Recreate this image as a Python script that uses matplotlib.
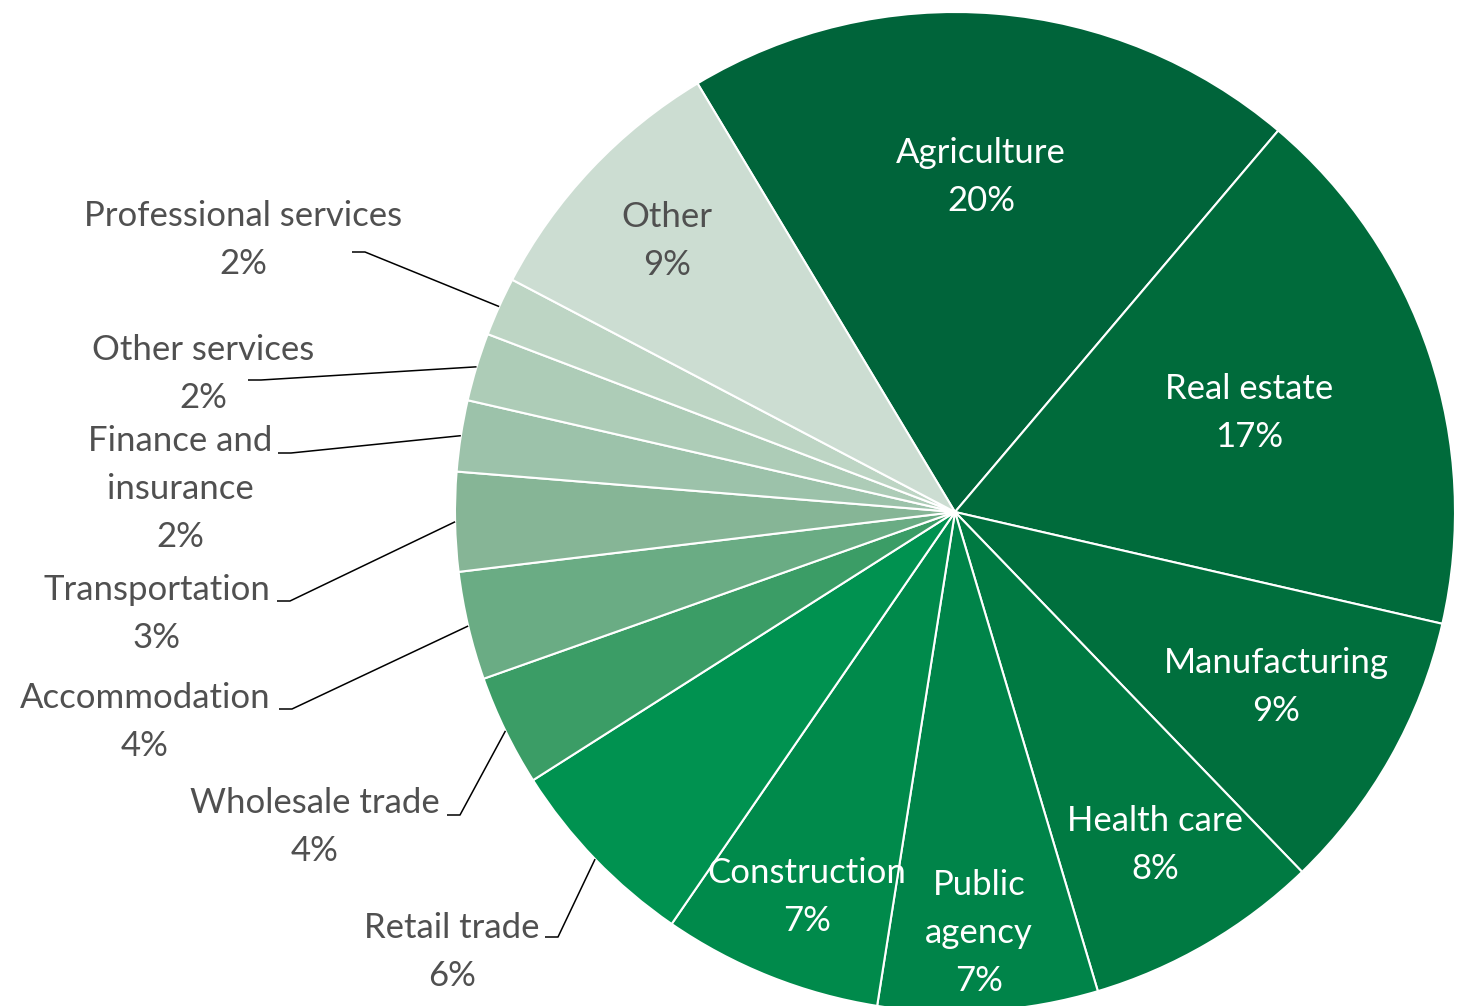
import matplotlib.pyplot as plt
import numpy as np

sectors = ["Agriculture", "Real estate", "Manufacturing", "Health care",
           "Public\nagency", "Construction", "Retail trade", "Wholesale trade",
           "Accommodation", "Transportation", "Finance and\ninsurance",
           "Other services", "Professional services", "Other"]
shares = [19.8, 17.4, 9.2, 7.6, 7.1, 7.1, 6.4, 3.6, 3.5, 3.2, 2.3, 2.2, 1.9, 8.7]
colors = ["#00643A", "#006B3B", "#006F3D", "#007A42", "#008449", "#008A4B",
          "#009250", "#3B9D66", "#6AAC84", "#86B596", "#9CC2AA", "#ADCCB7",
          "#BDD5C4", "#CCDDD2"]

# label placement in pixel coords (x, y from top-left)
label_pos = [(981, 177), (1249, 413), (1276, 687), (1155, 845), (979, 933),
             (807, 897), (452, 952), (315, 827), (145, 722), (157, 614),
             (180, 489), (203, 374), (243, 240), (667, 241)]
# leader start for outside labels (None = label sits inside the slice)
leader_from = [None, None, None, None, None, None, (545, 937), (447, 815),
               (279, 709), (277, 601), (278, 453), (248, 380), (352, 252), None]

W, H = 1458, 1006
CX, CY, R = 955, 512, 500
GRAY = "#505050"


def px(x, y):
    return (x - CX) / R, (CY - y) / R


plt.rcParams['font.family'] = ['Lato', 'DejaVu Sans']

fig = plt.figure(figsize=(W / 100, H / 100), dpi=100)
ax = fig.add_axes([0, 0, 1, 1])
wedges, _ = ax.pie(shares, colors=colors, startangle=121, counterclock=False,
                   radius=1, wedgeprops=dict(edgecolor='white', linewidth=1.5))
ax.set_xlim(-CX / R, (W - CX) / R)
ax.set_ylim(-(H - CY) / R, CY / R)
ax.set_aspect('equal')
ax.axis('off')

total = sum(shares)
for i, (name, v) in enumerate(zip(sectors, shares)):
    txt = f"{name}\n{round(v / total * 100):.0f}%"
    inside = leader_from[i] is None
    col = 'white' if inside and name != "Other" else GRAY
    x, y = px(*label_pos[i])
    ax.text(x, y, txt, ha='center', va='center', multialignment='center',
            fontsize=25, color=col, linespacing=1.6)
    if not inside:
        # leader: short horizontal tick, then to the slice edge at mid angle
        w = wedges[i]
        mid = np.deg2rad((w.theta1 + w.theta2) / 2)
        x0, y0 = leader_from[i]
        sx, sy = px(x0, y0)
        ex, ey = px(x0 + 13, y0)
        ax.plot([sx, ex, np.cos(mid)], [sy, ey, np.sin(mid)],
                color='black', lw=1.1, solid_capstyle='butt')

fig.savefig("out.png", dpi=100, facecolor='white')
